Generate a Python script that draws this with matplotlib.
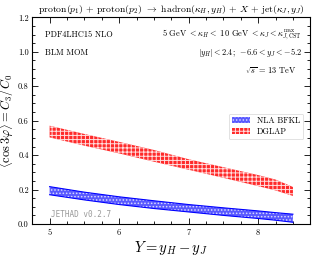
import numpy as np
import matplotlib
matplotlib.use("Agg")
import matplotlib.pyplot as plt
from matplotlib.ticker import MultipleLocator, FormatStrFormatter

plt.rcParams['font.family'] = 'serif'
plt.rcParams['font.serif'] = ['cmr10', 'DejaVu Serif']
plt.rcParams['mathtext.fontset'] = 'cm'
plt.rcParams['axes.unicode_minus'] = False
plt.rcParams['hatch.linewidth'] = 0.7

# rapidity distance Y
Y = [5.0, 5.5, 6.0, 6.5, 7.0, 7.5, 8.0, 8.25, 8.5]

# NLA BFKL band
bfkl_lo = [0.170, 0.140, 0.113, 0.090, 0.070, 0.050, 0.032, 0.022, 0.010]
bfkl_hi = [0.217, 0.185, 0.158, 0.135, 0.113, 0.094, 0.076, 0.066, 0.057]

# DGLAP band
dglap_lo = [0.503, 0.455, 0.410, 0.362, 0.315, 0.268, 0.220, 0.195, 0.163]
dglap_hi = [0.571, 0.523, 0.477, 0.430, 0.376, 0.330, 0.284, 0.258, 0.215]

fig = plt.figure(figsize=(3.16, 2.56), dpi=100)
ax = fig.add_axes([0.102, 0.125, 0.880, 0.807])

ax.fill_between(Y, bfkl_lo, bfkl_hi, facecolor='#5a5aff', edgecolor='#d8d8ff',
                hatch='.....', linewidth=0.0, label='NLA BFKL')
ax.plot(Y, bfkl_lo, color='blue', lw=0.8)
ax.plot(Y, bfkl_hi, color='blue', lw=0.8)
ax.fill_between(Y, dglap_lo, dglap_hi, facecolor='#ff2a2a', edgecolor='#ffe0e0',
                hatch='++++', linewidth=0.0, label='DGLAP')

ax.set_xlim(4.75, 8.75)
ax.set_ylim(0.0, 1.2)
ax.xaxis.set_major_locator(MultipleLocator(1))
ax.xaxis.set_minor_locator(MultipleLocator(0.25))
ax.yaxis.set_major_locator(MultipleLocator(0.2))
ax.yaxis.set_minor_locator(MultipleLocator(0.05))
ax.tick_params(which='both', direction='in', top=True, right=True,
               labelsize=6, width=0.6)
ax.tick_params(which='major', length=4)
ax.tick_params(which='minor', length=2)
ax.tick_params(axis='y', pad=2.5)
ax.xaxis.set_major_formatter(FormatStrFormatter('%d'))
ax.yaxis.set_major_formatter(FormatStrFormatter('%.1f'))
for s in ax.spines.values():
    s.set_linewidth(0.8)

ax.set_xlabel(r'$Y = y_H - y_J$', fontsize=10.5, labelpad=1)
ax.set_ylabel(r'$\langle \cos 3\varphi \rangle = C_3/C_0$', fontsize=9)
ax.yaxis.set_label_coords(-0.058, 0.5)
ax.set_title(r'proton$(p_1)$ + proton$(p_2)$ $\to$ hadron$(\kappa_H, y_H)$ + $X$ + jet$(\kappa_J, y_J)$',
             fontsize=7, pad=4)

ax.text(0.046, 0.914, 'PDF4LHC15 NLO', transform=ax.transAxes, fontsize=6, va='center')
ax.text(0.046, 0.828, 'BLM MOM', transform=ax.transAxes, fontsize=6, va='center')
ax.text(0.97, 0.914, r'5 GeV $< \kappa_H <$ 10 GeV $< \kappa_J < \kappa_{J,{\rm CST}}^{\rm max}$',
        transform=ax.transAxes, fontsize=6, va='center', ha='right')
ax.text(0.97, 0.828, r'$|y_H| < 2.4$;  $-6.6 < y_J < -5.2$',
        transform=ax.transAxes, fontsize=6, va='center', ha='right')
ax.text(0.95, 0.741, r'$\sqrt{s}$ = 13 TeV', transform=ax.transAxes, fontsize=6,
        va='center', ha='right')
ax.text(0.066, 0.047, 'JETHAD v0.2.7', transform=ax.transAxes, fontsize=5.5,
        family='monospace', color='#999999', va='center')

leg = ax.legend(loc='upper right', bbox_to_anchor=(0.99, 0.555), fontsize=6,
                frameon=True, fancybox=True, borderpad=0.4, handlelength=2.2,
                labelspacing=0.3)
leg.get_frame().set_linewidth(0.5)

fig.savefig('out.png', dpi=100)
